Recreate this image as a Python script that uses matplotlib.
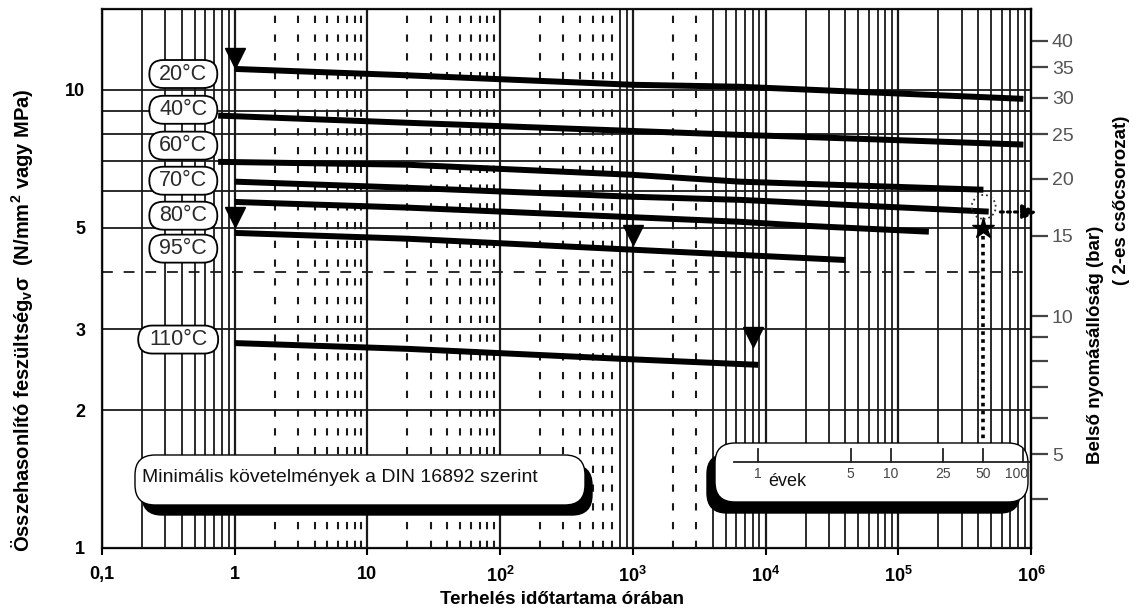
import matplotlib
matplotlib.use('Agg')
import matplotlib.pyplot as plt
from matplotlib.patches import FancyBboxPatch, Circle
from matplotlib import transforms

plt.rcParams['font.family'] = ['Liberation Sans', 'DejaVu Sans']
plt.rcParams['mathtext.fontset'] = 'custom'
plt.rcParams['mathtext.rm'] = 'Liberation Sans'
plt.rcParams['mathtext.bf'] = 'Liberation Sans:bold'

# load time (hours) and comparative stress (N/mm2) per temperature
temps = ['20°C', '40°C', '60°C', '70°C', '80°C', '95°C', '110°C']
hours_20 = [1, 20, 1000, 6400, 876000]
stress_20 = [11.1, 10.75, 10.25, 10.15, 9.55]
hours_40 = [0.75, 20, 6400, 19300, 876000]
stress_40 = [8.78, 8.47, 7.97, 7.89, 7.59]
hours_60 = [0.75, 20, 1000, 6400, 438000]
stress_60 = [6.96, 6.86, 6.52, 6.30, 6.05]
hours_70 = [1, 20, 1000, 6400, 480000]
stress_70 = [6.30, 6.11, 5.84, 5.75, 5.42]
hours_80 = [1, 20, 6400, 19300, 170000]
stress_80 = [5.69, 5.53, 5.15, 5.05, 4.90]
hours_95 = [1, 20, 6400, 40000]
stress_95 = [4.87, 4.73, 4.36, 4.25]
hours_110 = [1, 20, 1000, 8800]
stress_110 = [2.80, 2.72, 2.58, 2.51]

curve_hours = [hours_20, hours_40, hours_60, hours_70, hours_80, hours_95, hours_110]
curve_stress = [stress_20, stress_40, stress_60, stress_70, stress_80, stress_95, stress_110]

# knee markers
tri_hours = [1, 1, 1000, 8000]
tri_stress = [11.75, 5.28, 4.83, 2.89]

# 50 year point at 70 C
star_hours = 50 * 8760
star_stress = 5.0
circle_stress = 5.55
arrow_stress = 5.41

# pipe series 2 (S 3.2): bar = 10 * MPa / 3.2
bar_per_mpa = 10 / 3.2
bar_major = [5, 10, 15, 20, 25, 30, 35, 40]
bar_minor = [4, 6, 7, 8, 9]

years = [1, 5, 10, 25, 50, 100]
hours_per_year = 8760

x_ticks = [0.1, 1, 10, 100, 1e3, 1e4, 1e5, 1e6]
x_labels = ['0,1', '1', '10', r'$\mathbf{10^2}$', r'$\mathbf{10^3}$',
            r'$\mathbf{10^4}$', r'$\mathbf{10^5}$', r'$\mathbf{10^6}$']
y_ticks = [1, 2, 3, 5, 10]
y_solid = [2, 3, 5, 6, 7, 8, 9, 10]
y_dashed = [4]

label_x = [0.41, 0.41, 0.41, 0.41, 0.41, 0.41, 0.375]
label_y = [10.82, 9.04, 7.55, 6.33, 5.31, 4.50, 2.85]

fig = plt.figure(figsize=(11.36, 6.12), dpi=100)
ax = fig.add_axes([102 / 1136, 1 - 548 / 612, 929 / 1136, 539 / 612])
ax.set_xscale('log')
ax.set_yscale('log')
ax.set_xlim(0.1, 1e6)
ax.set_ylim(1, 15)

grid_c = '#1a1a1a'
# vertical grid
for d in range(-1, 6):
    ax.axvline(10.0 ** d, color=grid_c, lw=1.6, zorder=1)
    for k in range(2, 10):
        v = k * 10.0 ** d
        if 1 <= v < 800 or 2000 <= v < 4000:
            ax.axvline(v, color=grid_c, lw=1.5, dashes=(3.5, 5.5), zorder=1)
        else:
            ax.axvline(v, color=grid_c, lw=1.3, zorder=1)
for v in y_solid:
    ax.axhline(v, color=grid_c, lw=1.3, zorder=1)
for v in y_dashed:
    ax.axhline(v, color=grid_c, lw=1.3, dashes=(6, 6), zorder=1)

for h, s in zip(curve_hours, curve_stress):
    ax.plot(h, s, color='black', lw=4.3, solid_capstyle='butt', zorder=3)

ax.plot(tri_hours, tri_stress, 'v', color='black', ms=15, zorder=4)
ax.plot([star_hours, star_hours], [star_stress, 1.70], color='black', lw=2.6,
        dashes=(1, 1.2), zorder=3)
ax.plot(star_hours, star_stress, '*', color='black', ms=16, zorder=4)

circ_tr = fig.dpi_scale_trans + transforms.ScaledTranslation(
    4.4e5, circle_stress, ax.transData)
ax.add_patch(Circle((0, 0), 0.12, transform=circ_tr, fill=False,
                    ec='#333333', lw=1.3, ls=':', zorder=4))
ax.annotate('', xy=(1.0097, arrow_stress), xycoords=('axes fraction', 'data'),
            xytext=(5.6e5, arrow_stress), textcoords='data',
            arrowprops=dict(arrowstyle='-|>', color='black', lw=2.2,
                            ls=(0, (1, 1.3)), mutation_scale=22),
            annotation_clip=False, zorder=5)

# temperature tags
for t, lx, ly in zip(temps, label_x, label_y):
    w = 0.80 if t == '110°C' else 0.68
    tr = fig.dpi_scale_trans + transforms.ScaledTranslation(lx, ly, ax.transData)
    ax.add_patch(FancyBboxPatch((-w / 2, -0.14), w, 0.28,
                                boxstyle='round,pad=0,rounding_size=0.14',
                                transform=tr, fc='white', ec='black', lw=1.3,
                                zorder=5))
    ax.text(lx, ly, t, ha='center', va='center', fontsize=15.5,
            color='#2a2a2a', zorder=6)

# rounded boxes with shadow, positioned in figure inches
def fbox(x0, y0, x1, y1, dx, dy, r):
    for off, fc, z in [((dx, -dy), 'black', 6), ((0, 0), 'white', 7)]:
        p = FancyBboxPatch((x0 / 100 + off[0], (612 - y1) / 100 + off[1]),
                           (x1 - x0) / 100, (y1 - y0) / 100,
                           boxstyle='round,pad=0,rounding_size=%g' % r,
                           transform=fig.dpi_scale_trans, fc=fc, ec='black',
                           lw=1.0, zorder=z, clip_on=False)
        ax.add_patch(p)

fbox(135, 455, 585, 505, 0.07, 0.10, 0.2)
ax.text(1.42, (612 - 478) / 100, 'Minimális követelmények a DIN 16892 szerint',
        transform=fig.dpi_scale_trans, ha='left', va='center', fontsize=14,
        color='#111111', zorder=8)

fbox(715, 443, 1028, 502, -0.08, 0.11, 0.2)
ytr = transforms.blended_transform_factory(ax.transData, fig.dpi_scale_trans)
ax.plot([5800, 1e6], [(612 - 462) / 100] * 2, color='#222222', lw=1.3,
        transform=ytr, zorder=8, clip_on=False)
for yr in years:
    ax.plot([yr * hours_per_year] * 2, [(612 - 462) / 100, (612 - 449) / 100],
            color='#222222', lw=1.3, transform=ytr, zorder=8, clip_on=False)
    shift = -5 if yr == years[-1] else 0
    ax.annotate(str(yr), xy=(yr * hours_per_year, (612 - 474) / 100),
                xycoords=ytr, xytext=(shift, 0), textcoords='offset points',
                ha='center', va='center', fontsize=10, color='#444444',
                zorder=8, annotation_clip=False)
ax.text(10500, (612 - 481) / 100, 'évek', transform=ytr, ha='left', va='center',
        fontsize=13, color='#111111', zorder=8)

ax.set_xticks(x_ticks)
ax.set_xticklabels(x_labels, fontweight='bold', fontsize=13)
ax.xaxis.set_minor_locator(plt.NullLocator())
ax.tick_params(axis='x', which='major', length=5, width=1.5, pad=8)
ax.set_yticks(y_ticks)
ax.set_yticklabels([str(v) for v in y_ticks], fontweight='bold', fontsize=13)
ax.yaxis.set_minor_locator(plt.NullLocator())
ax.tick_params(axis='y', which='major', length=0, pad=12)
for sp in ax.spines.values():
    sp.set_linewidth(1.6)
    sp.set_color(grid_c)

ax2 = ax.twinx()
ax2.set_yscale('log')
ax2.set_ylim(1 * bar_per_mpa, 15 * bar_per_mpa)
ax2.set_yticks(bar_major)
ax2.set_yticklabels([str(v) for v in bar_major], fontsize=14, color='#555555')
ax2.set_yticks(bar_minor, minor=True)
ax2.set_yticklabels([], minor=True)
ax2.tick_params(axis='y', which='both', length=12, width=1.6, color='#444444', pad=3)
ax2.spines['right'].set_linewidth(1.6)

fig.text(562 / 1136, 1 - 600 / 612, 'Terhelés időtartama órában', ha='center',
         va='center', fontsize=13.5, fontweight='bold')
fig.text(22 / 1136, 1 - 320 / 612,
         r'Összehasonlító feszültség$_{\mathbf{v}}\mathbf{\sigma}$  (N/mm$^{\mathbf{2}}$ vagy MPa)',
         rotation=90, ha='center', va='center', fontsize=14.5, fontweight='bold')
fig.text(1095 / 1136, 1 - 345 / 612, 'Belső nyomásállóság (bar)', rotation=90,
         ha='center', va='center', fontsize=13.5, fontweight='bold')
fig.text(1122 / 1136, 1 - 200 / 612, '( 2-es csőcsorozat)', rotation=90,
         ha='center', va='center', fontsize=13.5, fontweight='bold')

fig.savefig('out.png', dpi=100)
